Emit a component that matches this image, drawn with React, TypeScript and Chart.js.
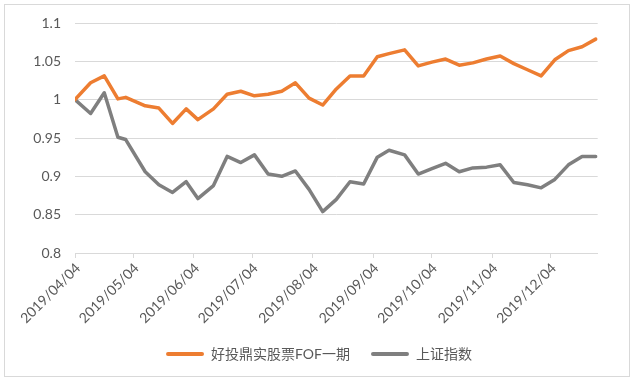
import React, { useEffect, useRef } from "react";
import { Chart, registerables } from "chart.js";

Chart.register(...registerables);

const DATES = [
  "2019/04/04", "2019/04/12", "2019/04/19", "2019/04/26", "2019/04/30",
  "2019/05/10", "2019/05/17", "2019/05/24", "2019/05/31",
  "2019/06/06", "2019/06/14", "2019/06/21", "2019/06/28",
  "2019/07/05", "2019/07/12", "2019/07/19", "2019/07/26",
  "2019/08/02", "2019/08/09", "2019/08/16", "2019/08/23", "2019/08/30",
  "2019/09/06", "2019/09/12", "2019/09/20", "2019/09/27",
  "2019/10/04", "2019/10/11", "2019/10/18", "2019/10/25",
  "2019/11/01", "2019/11/08", "2019/11/15", "2019/11/22", "2019/11/29",
  "2019/12/06", "2019/12/13", "2019/12/20", "2019/12/27",
];

const FUND_NAME = "好投鼎实股票FOF一期";
const FUND_VALUES = [
  1.000, 1.022, 1.031, 1.001, 1.003,
  0.992, 0.989, 0.969, 0.988,
  0.974, 0.988, 1.007, 1.011,
  1.005, 1.007, 1.011, 1.022,
  1.002, 0.993, 1.014, 1.031, 1.031,
  1.056, 1.060, 1.065, 1.044,
  1.049, 1.053, 1.045, 1.048,
  1.053, 1.057, 1.047, 1.039, 1.031,
  1.052, 1.064, 1.069, 1.079,
];

const INDEX_NAME = "上证指数";
const INDEX_VALUES = [
  1.000, 0.982, 1.009, 0.951, 0.948,
  0.906, 0.889, 0.879, 0.893,
  0.871, 0.888, 0.926, 0.918,
  0.928, 0.903, 0.900, 0.907,
  0.883, 0.854, 0.870, 0.893, 0.890,
  0.925, 0.934, 0.928, 0.903,
  0.910, 0.917, 0.906, 0.911,
  0.912, 0.915, 0.892, 0.889, 0.885,
  0.896, 0.915, 0.926, 0.926,
];

const X_TICK_LABELS = [
  "2019/04/04", "2019/05/04", "2019/06/04", "2019/07/04", "2019/08/04",
  "2019/09/04", "2019/10/04", "2019/11/04", "2019/12/04",
];
const AXIS_END = "2019/12/28";

const Y_MIN = 0.8;
const Y_MAX = 1.1;
const Y_STEP = 0.05;

const dayOf = (s: string) => {
  const [y, m, d] = s.split("/").map(Number);
  return Date.UTC(y, m - 1, d) / 86400000;
};
const DAY0 = dayOf(DATES[0]);
const rel = (s: string) => dayOf(s) - DAY0;

const FONT_FAMILY = "Lato, 'Noto Sans CJK SC', sans-serif";
const TEXT_COLOR = "#595959";
const GRID_COLOR = "#d9d9d9";

export default function App() {
  const ref = useRef<HTMLCanvasElement | null>(null);

  useEffect(() => {
    if (!ref.current) return;
    const tickDays = X_TICK_LABELS.map(rel);
    const chart = new Chart(ref.current, {
      type: "line",
      data: {
        datasets: [
          {
            label: FUND_NAME,
            data: DATES.map((d, i) => ({ x: rel(d), y: FUND_VALUES[i] })),
            borderColor: "#ED7D31",
            backgroundColor: "#ED7D31",
            borderWidth: 3.5,
            pointRadius: 0,
            tension: 0,
            borderJoinStyle: "round",
            borderCapStyle: "round",
          },
          {
            label: INDEX_NAME,
            data: DATES.map((d, i) => ({ x: rel(d), y: INDEX_VALUES[i] })),
            borderColor: "#7F7F7F",
            backgroundColor: "#7F7F7F",
            borderWidth: 3.5,
            pointRadius: 0,
            tension: 0,
            borderJoinStyle: "round",
            borderCapStyle: "round",
          },
        ],
      },
      options: {
        animation: false,
        responsive: false,
        maintainAspectRatio: false,
        layout: { padding: { top: 23, left: 0, right: 0, bottom: 16 } },
        plugins: {
          tooltip: { enabled: false },
          legend: {
            position: "bottom",
            labels: {
              font: { family: FONT_FAMILY, size: 14 },
              color: TEXT_COLOR,
              boxWidth: 38,
              boxHeight: 4,
              padding: 21,
              useBorderRadius: true,
              borderRadius: 2,
              generateLabels: (c: any) =>
                (Chart.defaults.plugins.legend.labels.generateLabels as any)(c).map((l: any) => ({
                  ...l,
                  lineWidth: 0,
                })),
            },
          },
        },
        scales: {
          x: {
            type: "linear",
            min: 0,
            max: rel(AXIS_END),
            afterBuildTicks: (s: any) => {
              s.ticks = tickDays.map((v) => ({ value: v }));
            },
            afterFit: (s: any) => {
              s.height = 73;
              s.paddingRight = 40.3;
            },
            ticks: {
              autoSkip: false,
              minRotation: 45,
              maxRotation: 45,
              padding: 2,
              labelOffset: 3,
              font: { family: FONT_FAMILY, size: 14 },
              color: TEXT_COLOR,
              callback: (v: any) => {
                const i = tickDays.indexOf(Number(v));
                return i >= 0 ? X_TICK_LABELS[i] : "";
              },
            },
            grid: {
              drawOnChartArea: false,
              drawTicks: true,
              tickLength: 5,
              color: GRID_COLOR,
            },
            border: { display: true, color: GRID_COLOR, width: 1 },
          },
          y: {
            min: Y_MIN,
            max: Y_MAX,
            afterFit: (s: any) => {
              s.width = 75;
            },
            ticks: {
              stepSize: Y_STEP,
              padding: 14,
              font: { family: FONT_FAMILY, size: 14 },
              color: TEXT_COLOR,
              callback: (v: any) => String(parseFloat(Number(v).toFixed(2))),
            },
            grid: { color: GRID_COLOR, drawTicks: false, lineWidth: 1 },
            border: { display: false },
          },
        },
      },
    });
    return () => chart.destroy();
  }, []);

  return (
    <div style={{ position: "fixed", left: 0, top: 0, width: 638, height: 387, background: "#fff" }}>
      <div
        style={{
          position: "absolute",
          left: 4,
          top: 4,
          width: 626,
          height: 373,
          boxSizing: "border-box",
          border: "1px solid #d9d9d9",
        }}
      />
      <canvas ref={ref} width={638} height={387} style={{ position: "absolute", left: 0, top: 0 }} />
    </div>
  );
}
